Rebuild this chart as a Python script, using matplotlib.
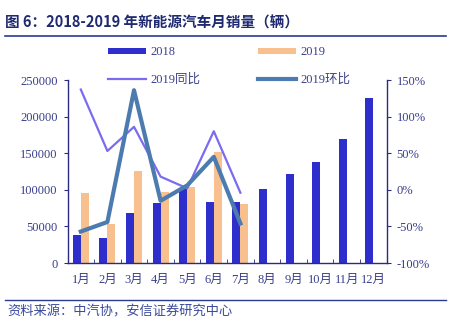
import matplotlib
matplotlib.use("Agg")
import matplotlib.pyplot as plt
import numpy as np
from matplotlib.lines import Line2D

plt.rcParams['font.family'] = ['Liberation Serif', 'Noto Sans CJK SC', 'DejaVu Sans']

months = ['1月', '2月', '3月', '4月', '5月', '6月', '7月', '8月', '9月', '10月', '11月', '12月']
sales_2018 = [38000, 34600, 68000, 82000, 102000, 84000, 84000, 101000, 121000, 138000, 170000, 225000]
sales_2019 = [96000, 53000, 126000, 97000, 104000, 152000, 80000]
yoy_2019 = [137, 53, 86, 18, 2, 80, -4]
mom_2019 = [-57, -44, 136, -15, 6, 45, -46]

navy = '#2A2A80'
tick_col = '#3A3F8A'
blue_bar = '#2E2ECC'
orange_bar = '#F8C08E'
yoy_col = '#7B6BF0'
mom_col = '#4C7BB0'

fig = plt.figure(figsize=(4.74, 3.27), dpi=100)
ax = fig.add_axes([67.5/474, (327-263)/327, (386.7-67.5)/474, (263-80)/327])
ax2 = ax.twinx()

x = np.arange(len(months))
w = 0.3
b1 = ax.bar(x - w/2, sales_2018, width=w, color=blue_bar, label='2018', zorder=2)
x19 = np.arange(len(sales_2019))
b2 = ax.bar(x19 + w/2, sales_2019, width=w, color=orange_bar, label='2019', zorder=2)

l1, = ax2.plot(x19, yoy_2019, color=yoy_col, lw=1.6, label='2019同比')
l2, = ax2.plot(x19, mom_2019, color=mom_col, lw=3.0, label='2019环比')

ax.set_xlim(-0.5, 11.5)
ax.set_ylim(0, 250000)
ax.set_yticks(np.arange(0, 250001, 50000))
ax2.set_ylim(-100, 150)
ax2.set_yticks(np.arange(-100, 151, 50))
ax2.set_yticklabels([f'{v}%' for v in range(-100, 151, 50)])

ax.set_xticks(x)
ax.set_xticklabels(months)
ax.set_xticks(np.arange(-0.5, 12, 1), minor=True)
ax.tick_params(axis='x', which='major', length=0, pad=8, labelsize=9, colors=tick_col)
ax.tick_params(axis='x', which='minor', length=3, direction='in', color=navy)
ax.tick_params(axis='y', length=3, direction='out', color=navy, labelsize=9, labelcolor=tick_col, pad=4)
ax2.tick_params(axis='y', length=3, direction='out', color=navy, labelsize=9, labelcolor=tick_col, pad=4)

for a in (ax, ax2):
    for s in a.spines.values():
        s.set_visible(False)
ax.spines['left'].set_visible(True)
ax.spines['bottom'].set_visible(True)
ax2.spines['right'].set_visible(True)
for s in (ax.spines['left'], ax.spines['bottom'], ax2.spines['right']):
    s.set_color(navy)
    s.set_linewidth(1.0)

handles = [b1, l1, b2, l2]
labels = ['2018', '2019同比', '2019', '2019环比']
leg = fig.legend(handles, labels, ncol=2, loc='upper left', bbox_to_anchor=(97/474, 1 - 35/327),
                 frameon=False, fontsize=9, handlelength=3.0, handleheight=0.4,
                 columnspacing=4.6, labelspacing=1.2, handletextpad=0.4)
for t in leg.get_texts():
    t.set_color(tick_col)

# title
fig.text(5/474, 1 - 23/327, '图 6：2018-2019 年新能源汽车月销量（辆）', fontsize=10.5, fontweight='bold',
         color='#1F2A70', family=['Noto Sans CJK SC', 'DejaVu Sans'], va='center', ha='left')
fig.add_artist(Line2D([5/474, 446/474], [1 - 36/327, 1 - 36/327], color='#2B3990', lw=1.2))
fig.add_artist(Line2D([5/474, 446/474], [1 - 300/327, 1 - 300/327], color='#2B3990', lw=1.0))
fig.text(7/474, 1 - 312/327, '资料来源：中汽协，安信证券研究中心', fontsize=9.5, style='italic',
         color='#3A4A9A', family=['Noto Sans CJK SC', 'DejaVu Sans'], va='center', ha='left')

fig.savefig('out.png', dpi=100)
